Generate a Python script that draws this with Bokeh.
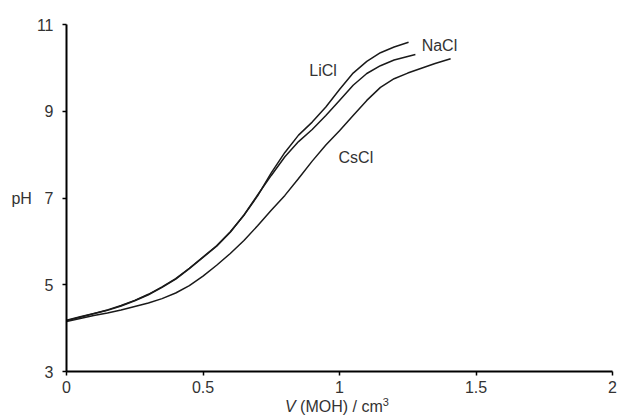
from bokeh.plotting import figure
from bokeh.models import Label, FixedTicker, Div
from bokeh.layouts import column
from bokeh.embed import file_html
from bokeh.resources import INLINE

# ---- data ----
v_licl = [0, 0.05, 0.1, 0.15, 0.2, 0.25, 0.3, 0.35, 0.4, 0.45, 0.5, 0.55, 0.6, 0.65,
          0.7, 0.75, 0.8, 0.85, 0.9, 0.95, 1.0, 1.05, 1.1, 1.15, 1.2, 1.253]
ph_licl = [4.18, 4.26, 4.34, 4.42, 4.52, 4.64, 4.78, 4.95, 5.14, 5.38, 5.64, 5.90, 6.22, 6.60,
           7.05, 7.58, 8.05, 8.45, 8.75, 9.10, 9.50, 9.88, 10.15, 10.35, 10.48, 10.59]

v_nacl = [0, 0.05, 0.1, 0.15, 0.2, 0.25, 0.3, 0.35, 0.4, 0.45, 0.5, 0.55, 0.6, 0.65,
          0.7, 0.75, 0.8, 0.85, 0.9, 0.95, 1.0, 1.05, 1.1, 1.15, 1.2, 1.278]
ph_nacl = [4.17, 4.25, 4.33, 4.41, 4.51, 4.63, 4.77, 4.94, 5.13, 5.37, 5.63, 5.89, 6.21, 6.61,
           7.07, 7.52, 7.95, 8.30, 8.58, 8.90, 9.25, 9.60, 9.87, 10.05, 10.18, 10.31]

v_cscl = [0, 0.05, 0.1, 0.15, 0.2, 0.25, 0.3, 0.35, 0.4, 0.45, 0.5, 0.55, 0.6, 0.65,
          0.7, 0.75, 0.8, 0.85, 0.9, 0.95, 1.0, 1.05, 1.1, 1.15, 1.2, 1.25, 1.3, 1.35, 1.407]
ph_cscl = [4.15, 4.22, 4.29, 4.35, 4.42, 4.50, 4.58, 4.68, 4.81, 4.98, 5.20, 5.45, 5.72, 6.02,
           6.36, 6.72, 7.06, 7.45, 7.85, 8.22, 8.55, 8.90, 9.25, 9.55, 9.75, 9.88, 9.99, 10.10, 10.21]

x_ticks = [0, 0.5, 1, 1.5, 2]
x_tick_labels = ["0", "0.5", "1", "1.5", "2"]
y_ticks = [3, 5, 7, 9, 11]
y_tick_labels = ["3", "5", "7", "9", "11"]

series_labels = ["LiCl", "NaCl", "CsCl"]
series_label_x = [0.94, 1.366, 1.06]
series_label_y = [9.94, 10.52, 7.93]

FONT = "Liberation Sans"
TXT = "#333333"
LINE = "#1a1a1a"
FS = "16px"

p = figure(width=617, height=398, output_backend="svg", toolbar_location=None,
           x_range=(0, 2), y_range=(3, 11),
           min_border_left=66, min_border_right=5, min_border_top=24, min_border_bottom=27)
p.outline_line_color = None
p.xgrid.visible = False
p.ygrid.visible = False
p.background_fill_color = "white"
p.border_fill_color = "white"

for v, ph in [(v_licl, ph_licl), (v_nacl, ph_nacl), (v_cscl, ph_cscl)]:
    p.line(v, ph, line_color=LINE, line_width=1.5)

for ax in (p.xaxis[0], p.yaxis[0]):
    ax.axis_line_color = "black"
    ax.axis_line_width = 2
    ax.major_tick_line_color = "black"
    ax.major_tick_line_width = 1.5
    ax.major_tick_in = 0
    ax.major_tick_out = 4
    ax.minor_tick_line_color = None
    ax.major_label_text_font = FONT
    ax.major_label_text_font_size = FS
    ax.major_label_text_color = TXT

p.xaxis.ticker = FixedTicker(ticks=x_ticks)
p.xaxis.major_label_overrides = dict(zip(x_ticks, x_tick_labels))
p.xaxis.major_label_standoff = 5
p.yaxis.ticker = FixedTicker(ticks=y_ticks)
p.yaxis.major_label_overrides = dict(zip(y_ticks, y_tick_labels))
p.yaxis.major_label_standoff = 9

p.yaxis.axis_label = "pH"
p.yaxis.axis_label_orientation = "horizontal"
p.yaxis.axis_label_text_font = FONT
p.yaxis.axis_label_text_font_size = FS
p.yaxis.axis_label_text_font_style = "normal"
p.yaxis.axis_label_text_color = TXT
p.yaxis.axis_label_standoff = 2

for name, lx, ly in zip(series_labels, series_label_x, series_label_y):
    p.add_layout(Label(x=lx, y=ly, text=name, text_font=FONT, text_font_size=FS,
                       text_color=TXT, text_align="center", text_baseline="middle"))

xtitle = Div(text='<i>V</i> (MOH) / cm<sup style="font-size:11px;line-height:0">3</sup>',
             width=617, height=18, margin=(0, 0, 0, 0),
             styles={"font-family": FONT, "font-size": FS, "color": TXT,
                     "padding-left": "285px", "line-height": "17px",
                     "white-space": "nowrap"})

layout = column(p, xtitle, spacing=0)
open("out.html", "w").write(file_html(layout, INLINE))
